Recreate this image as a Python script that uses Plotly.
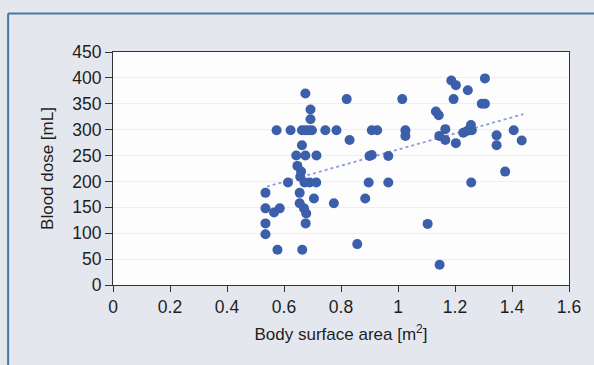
import plotly.graph_objects as go

# Body surface area [m^2]
bsa = [0.535, 0.535, 0.565, 0.585, 0.535, 0.535, 0.577, 0.574, 0.614,
       0.623, 0.663, 0.675, 0.687, 0.698, 0.675, 0.693, 0.693, 0.663,
       0.643, 0.675, 0.714, 0.647, 0.660, 0.657, 0.672, 0.690, 0.713,
       0.655, 0.705, 0.655, 0.670, 0.678, 0.676, 0.664, 0.745, 0.784,
       0.775, 0.820, 0.830, 0.857, 0.885, 0.897, 0.900, 0.908, 0.908,
       0.927, 0.966, 0.966, 1.015, 1.026, 1.026, 1.104, 1.133, 1.143,
       1.146, 1.166, 1.145, 1.166, 1.187, 1.203, 1.195, 1.203, 1.229,
       1.244, 1.256, 1.259, 1.245, 1.257, 1.294, 1.305, 1.305, 1.346,
       1.346, 1.376, 1.406, 1.434]
# Blood dose [mL]
dose = [178, 148, 140, 148, 119, 98, 68, 299, 198,
        299, 299, 299, 299, 299, 370, 339, 320, 270,
        250, 250, 250, 230, 219, 209, 198, 198, 198,
        178, 167, 158, 148, 138, 119, 68, 299, 299,
        158, 359, 280, 79, 167, 198, 249, 251, 299,
        299, 249, 198, 359, 299, 288, 118, 335, 328,
        39, 301, 288, 280, 395, 386, 359, 274, 294,
        298, 309, 299, 376, 198, 350, 350, 399, 289,
        270, 219, 299, 279]

trend_x = [0.54, 1.44]
trend_y = [190, 330]

x_ticks = [0, 0.2, 0.4, 0.6, 0.8, 1, 1.2, 1.4, 1.6]
x_tick_labels = ["0", "0.2", "0.4", "0.6", "0.8", "1", "1.2", "1.4", "1.6"]
y_ticks = [0, 50, 100, 150, 200, 250, 300, 350, 400, 450]

fig = go.Figure()
fig.add_trace(go.Scatter(x=trend_x, y=trend_y, mode="lines",
                         line=dict(color="#8d9bd8", width=1.8, dash="dot"),
                         hoverinfo="skip", showlegend=False))
fig.add_trace(go.Scatter(x=bsa, y=dose, mode="markers",
                         marker=dict(color="#3b5fab", size=10, line=dict(width=0)),
                         showlegend=False))

font_family = "Liberation Sans, Arial, sans-serif"
fig.update_layout(
    width=594, height=365,
    margin=dict(l=113, r=25, t=52, b=80),
    paper_bgcolor="#e4e8ee",
    plot_bgcolor="#fdfdfd",
    font=dict(family=font_family, size=17, color="#1e1e1e"),
    xaxis=dict(range=[0, 1.6], tickvals=x_ticks, ticktext=x_tick_labels,
               showgrid=False, zeroline=False, showline=True, linecolor="#333333",
               linewidth=1, mirror=True, ticks="outside", ticklen=6,
               tickcolor="#333333", tickfont=dict(size=17.5), automargin=False,
               title=dict(text="Body surface area [m<sup>2</sup>]",
                          font=dict(size=17), standoff=12),
               fixedrange=True),
    yaxis=dict(range=[0, 450], tickvals=y_ticks,
               showgrid=True, gridcolor="#eeeeee", gridwidth=1,
               zeroline=False, showline=True, linecolor="#333333",
               linewidth=1, mirror=True, ticks="outside", ticklen=7,
               tickcolor="#333333", tickfont=dict(size=17.5), automargin=False,
               title=dict(text="Blood dose [mL]", font=dict(size=17), standoff=14),
               fixedrange=True),
    shapes=[
        dict(type="line", xref="paper", yref="paper", x0=-0.230, x1=1.2,
             y0=1.165, y1=1.165, line=dict(color="#4677a8", width=2)),
        dict(type="line", xref="paper", yref="paper", x0=-0.230, x1=-0.230,
             y0=1.165, y1=-0.5, line=dict(color="#4677a8", width=2)),
    ],
)

fig.write_html("out.html", config={"displayModeBar": False},
               post_script="document.body.style.margin='0';")
